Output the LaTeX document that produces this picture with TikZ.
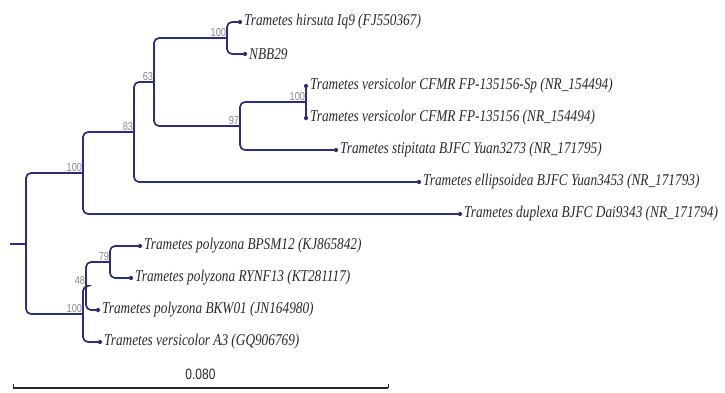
\documentclass[tikz,border=0pt]{standalone}
\usepackage{fontspec}
\setmainfont{Liberation Serif}
\newfontfamily\taxfont[FakeStretch=0.81]{Liberation Serif}
\newfontfamily\bootfont[FakeStretch=0.8]{Liberation Sans}
\usetikzlibrary{positioning}
\definecolor{branchblue}{RGB}{45,45,125}
\definecolor{labelgray}{RGB}{40,40,40}
\definecolor{bootgray}{RGB}{135,135,135}

\begin{document}
\begin{tikzpicture}[x=1pt, y=-1pt,
  branch/.style={draw=branchblue, line width=1.7pt, rounded corners=5pt},
  tipdot/.style={circle, fill=branchblue, inner sep=0pt, minimum size=4.2pt},
  taxon/.style={anchor=west, inner sep=0pt, xshift=4pt, text=labelgray, font=\taxfont\itshape\fontsize{16.4}{18}\selectfont},
  boot/.style={anchor=south east, inner sep=0.8pt, text=bootgray, font=\bootfont\fontsize{11.5}{12}\selectfont},
  scalebar/.style={draw=labelgray, line width=1.7pt}]
\useasboundingbox (0,0) rectangle (725,392);

\coordinate (hirs) at (240,22);
\coordinate (nbb) at (245,54);
\coordinate (cfsp) at (306,86);
\coordinate (cfmr) at (306,118);
\coordinate (stip) at (336,150);
\coordinate (ell) at (419,182);
\coordinate (dup) at (460,214);
\coordinate (bpsm) at (140,246);
\coordinate (rynf) at (131,278);
\coordinate (bkw) at (98,310);
\coordinate (vera) at (100,342);

\coordinate (n100a) at (227,38);
\coordinate (n100b) at (306,102);
\coordinate (n97) at (240,126);
\coordinate (n63) at (154,82);
\coordinate (n83) at (134,132);
\coordinate (n100u) at (83,173);
\coordinate (n79) at (110,262);
\coordinate (n48) at (86,286);
\coordinate (n100l) at (83,314);
\coordinate (root) at (26,244);
\coordinate (stub) at (10,244);

\draw[branch] (root) -- (stub);
\draw[branch] (root) |- (n100u);
\draw[branch] (root) |- (n100l);
\draw[branch] (n100u) |- (n83);
\draw[branch] (n100u) |- (dup);
\draw[branch] (n83) |- (n63);
\draw[branch] (n83) |- (ell);
\draw[branch] (n63) |- (n100a);
\draw[branch] (n63) |- (n97);
\draw[branch] (n100a) |- (hirs);
\draw[branch] (n100a) |- (nbb);
\draw[branch] (n97) |- (n100b);
\draw[branch] (n97) |- (stip);
\draw[branch] (n100b) -- (cfsp);
\draw[branch] (n100b) -- (cfmr);
\draw[branch] (n100l) |- (n48);
\draw[branch] (n100l) |- (vera);
\draw[branch] (n48) |- (n79);
\draw[branch] (n48) |- (bkw);
\draw[branch] (n79) |- (bpsm);
\draw[branch] (n79) |- (rynf);

\foreach \t in {hirs,nbb,cfsp,cfmr,stip,ell,dup,bpsm,rynf,bkw,vera}
  \node[tipdot] at (\t) {};

\node[taxon] (thirs) at (hirs) {Trametes hirsuta Iq9 (FJ550367)};
\node[taxon] (tnbb) at (nbb) {NBB29};
\node[taxon] (tcfsp) at (cfsp) {Trametes versicolor CFMR FP-135156-Sp (NR\_154494)};
\node[taxon] (tcfmr) at (cfmr) {Trametes versicolor CFMR FP-135156 (NR\_154494)};
\node[taxon] (tstip) at (stip) {Trametes stipitata BJFC Yuan3273 (NR\_171795)};
\node[taxon] (tell) at (ell) {Trametes ellipsoidea BJFC Yuan3453 (NR\_171793)};
\node[taxon] (tdup) at (dup) {Trametes duplexa BJFC Dai9343 (NR\_171794)};
\node[taxon] (tbpsm) at (bpsm) {Trametes polyzona BPSM12 (KJ865842)};
\node[taxon] (trynf) at (rynf) {Trametes polyzona RYNF13 (KT281117)};
\node[taxon] (tbkw) at (bkw) {Trametes polyzona BKW01 (JN164980)};
\node[taxon] (tvera) at (vera) {Trametes versicolor A3 (GQ906769)};

\node[boot] (b100a) at (n100a) {100};
\node[boot] (b100b) at (n100b) {100};
\node[boot] (b97) at (n97) {97};
\node[boot] (b63) at (n63) {63};
\node[boot] (b83) at (n83) {83};
\node[boot] (b100u) at (n100u) {100};
\node[boot] (b79) at (n79) {79};
\node[boot] (b48) at (n48) {48};
\node[boot] (b100l) at (n100l) {100};

\coordinate (sbl) at (13,388);
\coordinate (sbr) at (388,388);
\draw[scalebar] (sbl) -- (sbr);
\draw[scalebar, line width=1pt] (sbl) -- ++(0,-4);
\draw[scalebar, line width=1pt] (sbr) -- ++(0,-4);
\path (sbl) -- (sbr) node[midway, above=5pt, text=labelgray, font=\bootfont\fontsize{15}{16}\selectfont] (sblab) {0.080};
\end{tikzpicture}
\end{document}
